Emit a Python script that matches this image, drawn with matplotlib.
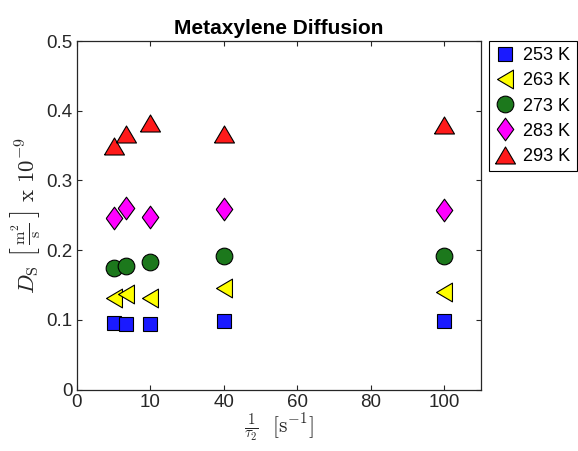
import matplotlib
matplotlib.use("Agg")
import matplotlib.pyplot as plt

# 1/tau2 values (as placed on the axis) and diffusion coefficients x 1e-9
x_vals = [10, 13.33, 20, 40, 100]
d_253 = [0.096, 0.094, 0.094, 0.098, 0.098]
d_263 = [0.132, 0.137, 0.132, 0.146, 0.140]
d_273 = [0.175, 0.178, 0.183, 0.191, 0.192]
d_283 = [0.246, 0.260, 0.248, 0.259, 0.258]
d_293 = [0.349, 0.366, 0.383, 0.366, 0.379]

labels = ['253 K', '263 K', '273 K', '283 K', '293 K']
xtick_pos = [0, 20, 40, 60, 80, 100]
xtick_lab = ['0', '10', '40', '60', '80', '100']

plt.rcParams['font.family'] = ['Liberation Sans', 'DejaVu Sans']
plt.rcParams['mathtext.fontset'] = 'cm'

# matlab-ish marker shapes
left_tri = [(-0.85, 0), (0.85, 1), (0.85, -1), (-0.85, 0)]
up_tri = [(-1, -0.85), (1, -0.85), (0, 0.85), (-1, -0.85)]
diamond = [(-0.73, 0), (0, 1), (0.73, 0), (0, -1), (-0.73, 0)]

fig = plt.figure(figsize=(5.78, 4.51), dpi=100)
ax = fig.add_axes([0.133, 0.136, 0.699, 0.773])

series = [
    (d_253, 's', 9.4, '#1a1aff'),
    (d_263, left_tri, 13.5, '#ffff00'),
    (d_273, 'o', 12, '#1c781c'),
    (d_283, diamond, 16.3, '#ff00ff'),
    (d_293, up_tri, 14.4, '#ff1a1a'),
]
for (vals, mk, ms, col), lab in zip(series, labels):
    ax.plot(x_vals, vals, linestyle='none', marker=mk, markersize=ms,
            markerfacecolor=col, markeredgecolor='black', markeredgewidth=0.8,
            label=lab)

ax.set_xlim(0, 110)
ax.set_ylim(0, 0.5)
ax.set_xticks(xtick_pos)
ax.set_xticklabels(xtick_lab)
ax.set_yticks([0, 0.1, 0.2, 0.3, 0.4, 0.5])
ax.set_yticklabels(['0', '0.1', '0.2', '0.3', '0.4', '0.5'])
ax.tick_params(direction='in', top=True, right=True, length=3.5, width=0.8,
               labelsize=13.5, colors='#262626', pad=3)
for sp in ax.spines.values():
    sp.set_color('#262626')
    sp.set_linewidth(0.9)

ax.set_title('Metaxylene Diffusion', fontsize=15, fontweight='bold', pad=5)
ax.set_xlabel(r'$\frac{1}{\tau_2}\ \ [\mathrm{s}^{-1}]$', fontsize=15.5, color='#262626', labelpad=0)
ax.set_ylabel(r'$D_{\mathrm{S}}\ \left[\,\frac{\mathrm{m}^2}{\mathrm{s}}\,\right]\ \mathrm{x}\ 10^{-9}$',
              fontsize=16.5, color='#262626', labelpad=3)

leg = ax.legend(loc='upper left', bbox_to_anchor=(489 / 578, 1 - 41 / 451),
                bbox_transform=fig.transFigure, borderaxespad=0, fontsize=13,
                fancybox=False, framealpha=1, edgecolor='black',
                handlelength=1.1, handletextpad=0.45, labelspacing=0.45,
                borderpad=0.35, numpoints=1)
leg.get_frame().set_linewidth(0.8)

plt.savefig('out.png', dpi=100)
